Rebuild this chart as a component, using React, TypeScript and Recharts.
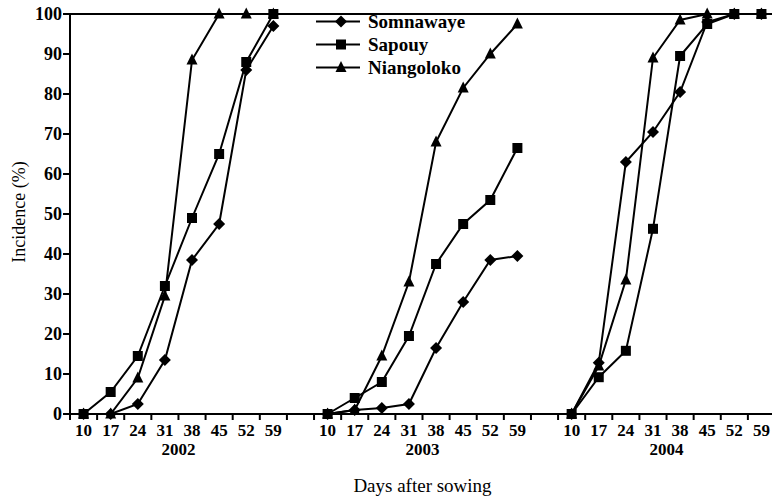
import React from "react";
import { LineChart, Line, XAxis, YAxis, ReferenceLine, Legend, Label } from "recharts";

const days = [10, 17, 24, 31, 38, 45, 52, 59];
const years = ["2002", "2003", "2004"];

// incidence (%) per sampling day, one list per site and year
const somnawaye2002 = [0, 0, 2.5, 13.5, 38.5, 47.5, 86, 97];
const sapouy2002 = [0, 5.5, 14.5, 32, 49, 65, 88, 100];
const niangoloko2002 = [0, 0, 9, 29.5, 88.5, 100, 100, 100];

const somnawaye2003 = [0, 1, 1.5, 2.5, 16.5, 28, 38.5, 39.5];
const sapouy2003 = [0, 4, 8, 19.5, 37.5, 47.5, 53.5, 66.5];
const niangoloko2003 = [0, 1, 14.5, 33, 68, 81.5, 90, 97.5];

const somnawaye2004 = [0, 12.8, 63, 70.5, 80.5, 98, 100, 100];
const sapouy2004 = [0, 9.2, 15.8, 46.3, 89.5, 97.5, 100, 100];
const niangoloko2004 = [0, 12, 33.5, 89, 98.5, 100, 100, 100];

const yTicks = [0, 10, 20, 30, 40, 50, 60, 70, 80, 90, 100];

const somnawaye = [somnawaye2002, somnawaye2003, somnawaye2004];
const sapouy = [sapouy2002, sapouy2003, sapouy2004];
const niangoloko = [niangoloko2002, niangoloko2003, niangoloko2004];

// each year takes 8 slots plus one empty slot between years
const GROUP = days.length + 1;
const SLOTS = years.length * GROUP - 1;

const rows: any[] = [];
for (let g = 0; g < years.length; g++) {
  days.forEach((day, i) => {
    rows.push({
      x: g * GROUP + i,
      day,
      somnawaye: somnawaye[g][i],
      sapouy: sapouy[g][i],
      niangoloko: niangoloko[g][i],
    });
  });
  if (g < years.length - 1) {
    rows.push({ x: g * GROUP + days.length, somnawaye: null, sapouy: null, niangoloko: null });
  }
}

const boundaries: number[] = [];
for (let i = 0; i <= SLOTS; i++) boundaries.push(i - 0.5);

// the plot runs a little past the right edge, so the frame clips it
const W = 775;
const H = 500;
const Y_AXIS_W = 70;
const BAND = (W - Y_AXIS_W) / SLOTS;
const FONT = "'Liberation Serif', 'Times New Roman', serif";

const diamond = (cx: number, cy: number, r = 6) =>
  `M${cx},${cy - r}L${cx + r},${cy}L${cx},${cy + r}L${cx - r},${cy}Z`;
const square = (cx: number, cy: number, s = 10) =>
  `M${cx - s / 2},${cy - s / 2}h${s}v${s}h${-s}Z`;
const triangle = (cx: number, cy: number, s = 11) =>
  `M${cx},${cy - s * 0.6}L${cx + s / 2},${cy + s * 0.4}L${cx - s / 2},${cy + s * 0.4}Z`;

const makeDot = (shape: (cx: number, cy: number) => string) => (props: any) => {
  const { cx, cy, value, index } = props;
  if (value == null || cx == null || cy == null) return <g key={index} />;
  return <path key={index} d={shape(cx, cy)} fill="#000" />;
};

const XTick = (props: any) => {
  const { x, y, payload } = props;
  const idx = payload.value + 0.5;
  const pos = idx % GROUP;
  const g = Math.floor(idx / GROUP);
  return (
    <g fontFamily={FONT} fontWeight="bold" fontSize={17} fill="#000">
      {idx < SLOTS && pos < days.length && (
        <text x={x + BAND / 2} y={y + 14} textAnchor="middle">
          {days[pos]}
        </text>
      )}
      {pos === days.length / 2 && g < years.length && (
        <text x={x} y={y + 33} textAnchor="middle">
          {years[g]}
        </text>
      )}
    </g>
  );
};

const legendItems = [
  { name: "Somnawaye", shape: diamond },
  { name: "Sapouy", shape: square },
  { name: "Niangoloko", shape: triangle },
];

const LegendBox = () => (
  <div style={{ fontFamily: FONT, fontWeight: "bold", fontSize: 19 }}>
    {legendItems.map((it) => (
      <div key={it.name} style={{ display: "flex", alignItems: "center", height: 23 }}>
        <svg width={46} height={23}>
          <line x1={0} x2={44} y1={11.5} y2={11.5} stroke="#000" strokeWidth={2} />
          <path d={it.shape(25, 11.5)} fill="#000" />
        </svg>
        <span style={{ marginLeft: 6, lineHeight: "23px" }}>{it.name}</span>
      </div>
    ))}
  </div>
);

export default function App() {
  return (
    <div style={{ position: "fixed", left: 0, top: 0, width: 772, height: H, overflow: "hidden", background: "#fff" }}>
      <LineChart width={W} height={H} data={rows} margin={{ top: 14, right: 0, bottom: 0, left: 0 }}>
        <XAxis
          dataKey="x"
          type="number"
          domain={[-0.5, SLOTS - 0.5]}
          ticks={boundaries}
          interval={0}
          height={86}
          axisLine={{ stroke: "#000", strokeWidth: 2 }}
          tickLine={{ stroke: "#000", strokeWidth: 2 }}
          tickSize={6}
          tick={<XTick />}
        >
          <Label
            value="Days after sowing"
            position="insideBottom"
            offset={8}
            style={{ fontFamily: FONT, fontSize: 19, fill: "#000" }}
          />
        </XAxis>
        <YAxis
          domain={[0, 100]}
          ticks={yTicks}
          interval={0}
          width={Y_AXIS_W}
          axisLine={{ stroke: "#000", strokeWidth: 2 }}
          tickLine={{ stroke: "#000", strokeWidth: 2 }}
          tickSize={7}
          tickMargin={1}
          tick={{ fontFamily: FONT, fontWeight: "bold", fontSize: 18, fill: "#000" }}
          label={() => (
            <text
              x={25}
              y={212}
              transform="rotate(-90, 25, 212)"
              textAnchor="middle"
              fontFamily={FONT}
              fontSize={18}
              fill="#000"
            >
              Incidence (%)
            </text>
          )}
        />
        <ReferenceLine y={100} stroke="#000" strokeWidth={2} />
        <Legend
          layout="vertical"
          align="center"
          verticalAlign="middle"
          wrapperStyle={{ left: 316, top: 10, width: "auto" }}
          content={<LegendBox />}
        />
        <Line dataKey="somnawaye" stroke="#000" strokeWidth={2} dot={makeDot(diamond)} activeDot={false} isAnimationActive={false} />
        <Line dataKey="sapouy" stroke="#000" strokeWidth={2} dot={makeDot(square)} activeDot={false} isAnimationActive={false} />
        <Line dataKey="niangoloko" stroke="#000" strokeWidth={2} dot={makeDot(triangle)} activeDot={false} isAnimationActive={false} />
      </LineChart>
    </div>
  );
}
